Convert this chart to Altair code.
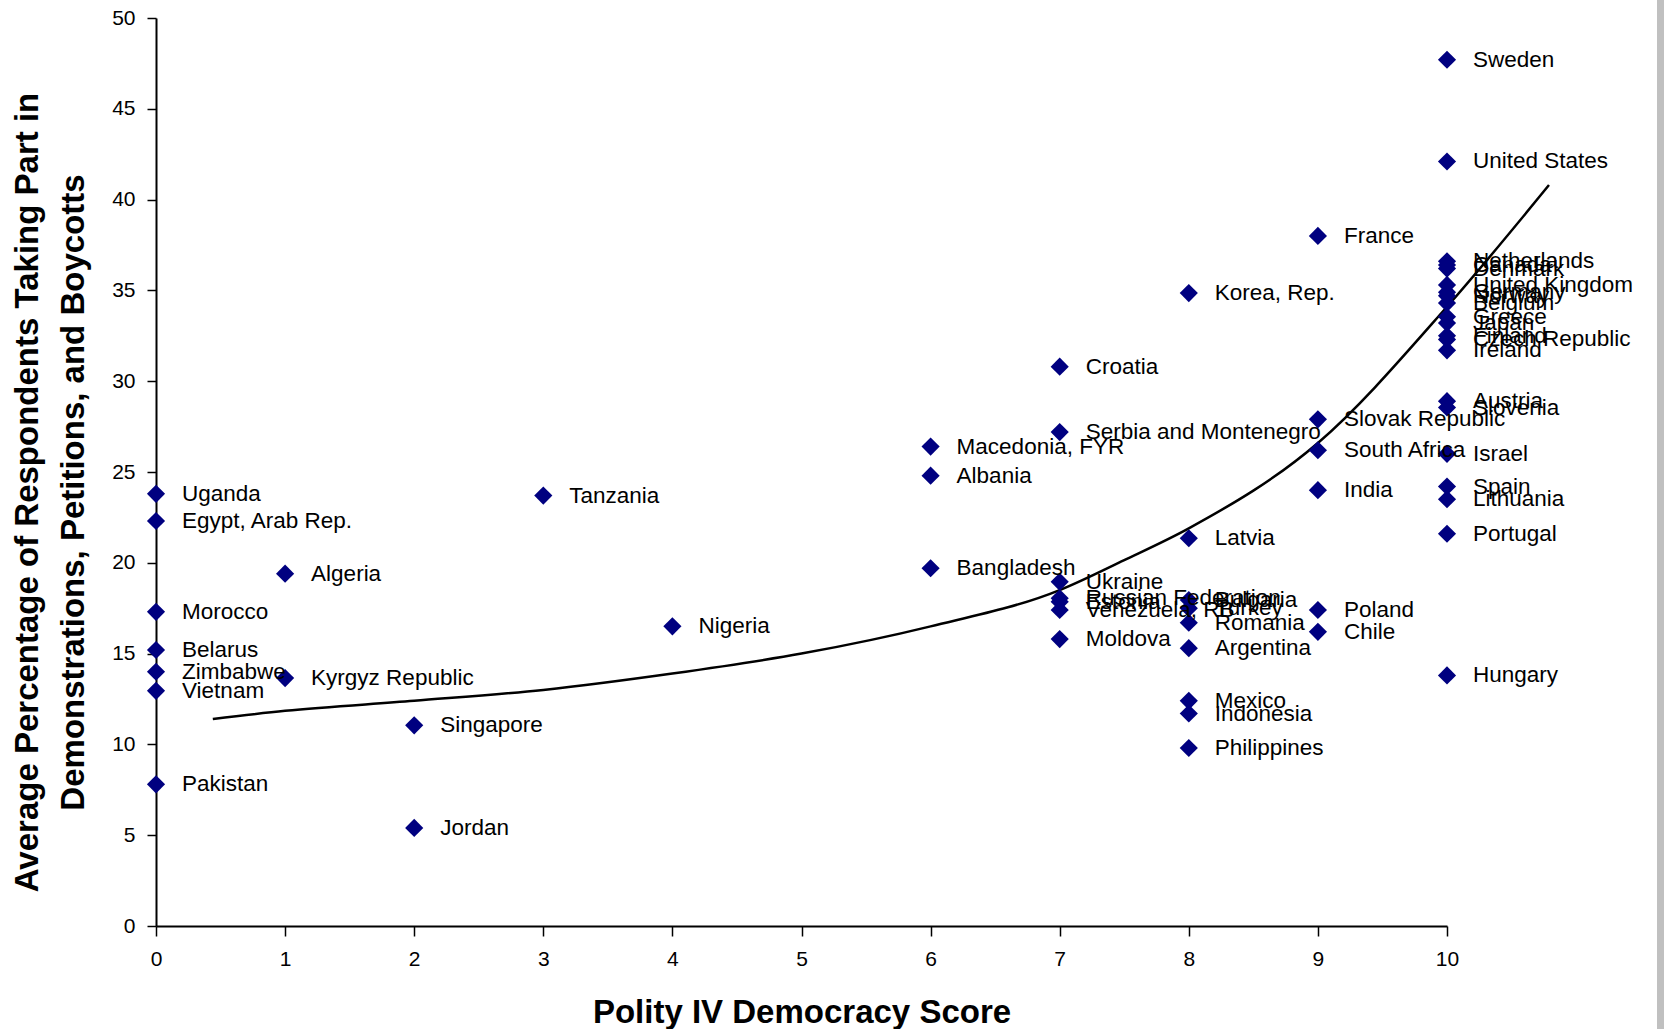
import altair as alt
import pandas as pd

# Country observations: Polity IV score and share of respondents (%) taking part
countries = [
    "Sweden", "United States", "Netherlands", "Canada", "Denmark", "United Kingdom",
    "Germany", "Norway", "Belgium", "Greece", "Japan", "Finland", "Czech Republic",
    "Ireland", "Austria", "Slovenia", "Israel", "Spain", "Lithuania", "Portugal", "Hungary",
    "France", "Slovak Republic", "South Africa", "India", "Poland", "Chile",
    "Korea, Rep.", "Latvia", "Bulgaria", "Turkey", "Romania", "Argentina",
    "Mexico", "Indonesia", "Philippines",
    "Croatia", "Serbia and Montenegro", "Ukraine", "Russian Federation", "Estonia",
    "Venezuela, RB", "Moldova",
    "Macedonia, FYR", "Albania", "Bangladesh",
    "Nigeria", "Tanzania", "Singapore", "Jordan", "Algeria", "Kyrgyz Republic",
    "Uganda", "Egypt, Arab Rep.", "Morocco", "Belarus", "Zimbabwe", "Vietnam", "Pakistan",
]
polity = [
    10, 10, 10, 10, 10, 10,
    10, 10, 10, 10, 10, 10, 10,
    10, 10, 10, 10, 10, 10, 10, 10,
    9, 9, 9, 9, 9, 9,
    8, 8, 8, 8, 8, 8,
    8, 8, 8,
    7, 7, 7, 7, 7,
    7, 7,
    6, 6, 6,
    4, 3, 2, 2, 1, 1,
    0, 0, 0, 0, 0, 0, 0,
]
participation = [
    47.7, 42.1, 36.6, 36.4, 36.2, 35.3,
    34.9, 34.7, 34.3, 33.55, 33.2, 32.5, 32.3,
    31.7, 28.9, 28.55, 26.0, 24.2, 23.5, 21.6, 13.8,
    38.0, 27.9, 26.2, 24.0, 17.4, 16.2,
    34.85, 21.35, 17.95, 17.5, 16.7, 15.3,
    12.4, 11.7, 9.8,
    30.8, 27.2, 18.95, 18.05, 17.85,
    17.4, 15.8,
    26.4, 24.8, 19.7,
    16.5, 23.7, 11.05, 5.4, 19.4, 13.65,
    23.8, 22.3, 17.3, 15.2, 14.0, 12.95, 7.8,
]

# Fitted trend curve, sampled along its length
trend_x = [0.44, 1, 2, 3, 4, 5, 6, 7, 7.5, 8, 9, 10, 10.79]
trend_y = [11.4, 11.85, 12.4, 13.0, 13.9, 15.0, 16.5, 18.5, 20.15, 21.9, 26.6, 34.1, 40.8]

points = pd.DataFrame({"country": countries, "polity": polity, "pct": participation})
trend = pd.DataFrame({"polity": trend_x, "pct": trend_y})

FONT = "Liberation Sans"

x_scale = alt.Scale(domain=[0, 10], nice=False, zero=False)
y_scale = alt.Scale(domain=[0, 50], nice=False)

x_enc = alt.X(
    "polity:Q",
    scale=x_scale,
    axis=alt.Axis(
        values=list(range(11)),
        format="d",
        title="Polity IV Democracy Score",
        grid=False,
        domainColor="black",
        domainWidth=2,
        tickColor="black",
        tickWidth=1.5,
        tickSize=10,
        labelFont=FONT,
        labelFontSize=21,
        labelColor="black",
        labelPadding=12,
        labelFlush=False,
        titleFont=FONT,
        titleFontSize=33,
        titleFontWeight="bold",
        titleColor="black",
        titlePadding=27,
    ),
)
y_enc = alt.Y(
    "pct:Q",
    scale=y_scale,
    axis=alt.Axis(
        values=list(range(0, 51, 5)),
        title=[
            "Average Percentage of Respondents Taking Part in",
            "Demonstrations, Petitions, and Boycotts",
        ],
        grid=False,
        domainColor="black",
        domainWidth=2,
        tickColor="black",
        tickWidth=1.5,
        tickSize=9,
        labelFont=FONT,
        labelFontSize=21,
        labelColor="black",
        labelPadding=12,
        labelFlush=False,
        titleFont=FONT,
        titleFontSize=33,
        titleFontWeight="bold",
        titleColor="black",
        titleLineHeight=46,
        titlePadding=21,
        titleY=474,
    ),
)

trend_line = alt.Chart(trend).mark_line(
    color="black", strokeWidth=2.5, interpolate="monotone"
).encode(x=x_enc, y=y_enc)

diamonds = alt.Chart(points).mark_point(
    shape="diamond", filled=True, color="#000080", opacity=1, size=330
).encode(x=x_enc, y=y_enc)

labels = alt.Chart(points).mark_text(
    align="left", baseline="middle", dx=26, font=FONT, fontSize=22.5, color="black"
).encode(x=x_enc, y=y_enc, text="country:N")

# thin grey border strip along the right edge of the page
edge = alt.Chart(points).mark_rect(color="#c0c0c0").encode(
    x=alt.value(1501), x2=alt.value(1510), y=alt.value(-18), y2=alt.value(1011)
)

chart = (
    alt.layer(trend_line, diamonds, labels, edge)
    .properties(
        width=1291,
        height=908,
        autosize=alt.AutoSizeParams(type="none"),
        padding={"left": 156, "top": 18, "right": 217, "bottom": 103},
        background="white",
    )
    .configure_view(stroke=None)
)

chart.save("out.html", embed_options={"renderer": "svg", "actions": False})
